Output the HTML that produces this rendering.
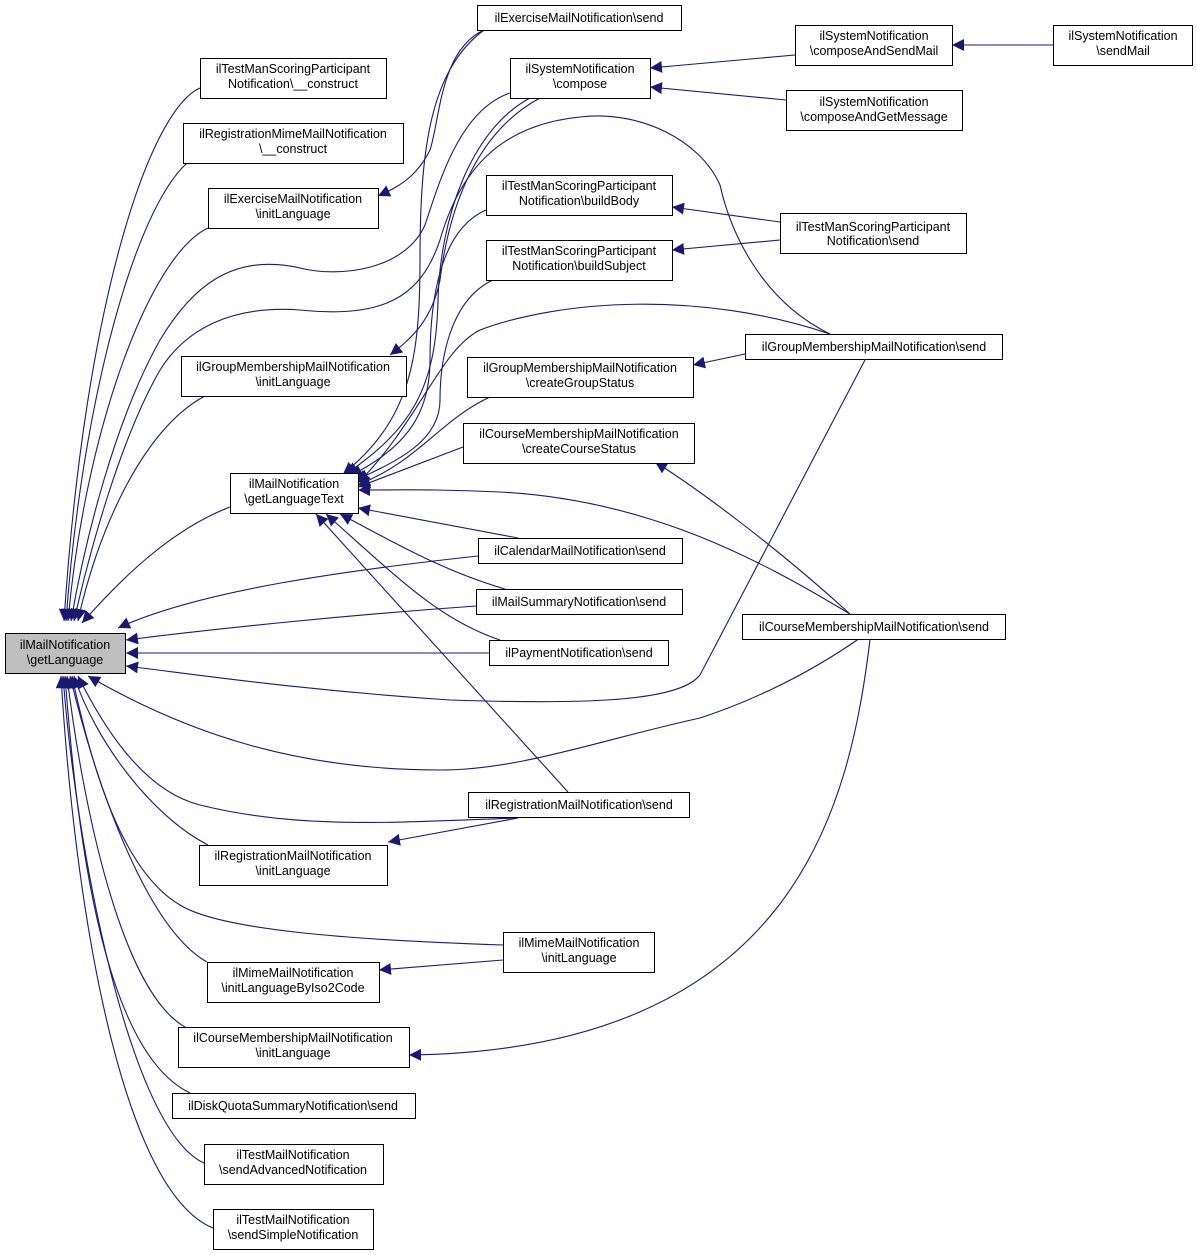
<!DOCTYPE html>
<html><head><meta charset="utf-8"><style>
html,body{margin:0;padding:0;background:#fff;}
svg{display:block;}
text{font-family:"Liberation Sans",sans-serif;font-size:12.5px;fill:#000;}
</style></head><body>
<svg width="1197" height="1255" viewBox="0 0 1197 1255" xmlns="http://www.w3.org/2000/svg">
<defs>
<marker id="a" viewBox="0 0 10 10" refX="10" refY="5" markerWidth="12" markerHeight="12" markerUnits="userSpaceOnUse" orient="auto">
<path d="M0,0 L10,5 L0,10 z" fill="#191970"/>
</marker>
</defs>
<g fill="none" stroke="#191970" stroke-width="1.1" marker-end="url(#a)">
<!-- to getLanguage from left column -->
<path d="M200,88 C150,110 85,300 64,621"/>
<path d="M187,163 C135,210 82,400 66,621"/>
<path d="M208,228 C150,255 85,430 68,621"/>
<path d="M510,93 C460,110 440,180 425,225 C405,270 340,278 300,268 C230,252 190,290 160,340 C115,420 85,540 71,621"/>
<path d="M830,334 C760,300 730,230 720,185 C700,140 640,110 580,117 C500,125 460,170 440,240 C420,300 380,318 300,310 C230,305 185,330 160,370 C120,440 90,550 74,621"/>
<path d="M205,396 C140,430 95,540 78,621"/>
<path d="M230,507 C170,530 120,580 82,623"/>
<path d="M478,556 C350,570 200,590 118,628"/>
<path d="M476,606 C350,615 220,628 126,640"/>
<path d="M489,653 L126,653"/>
<path d="M865,360 L700,675 C680,700 600,705 450,700 C300,690 200,675 126,666"/>
<path d="M860,638 C800,680 740,705 700,718 C600,740 520,770 440,770 C300,770 190,735 88,676"/>
<path d="M518,818 C400,822 300,830 200,805 C140,790 100,720 78,676"/>
<path d="M208,845 C150,815 95,740 74,676"/>
<path d="M503,945 C350,940 220,930 180,905 C120,870 90,760 72,676"/>
<path d="M207,962 C150,930 100,800 70,676"/>
<path d="M185,1027 C120,990 82,800 67,676"/>
<path d="M190,1093 C100,1050 76,820 65,676"/>
<path d="M204,1163 C130,1130 76,850 63,676"/>
<path d="M213,1228 C120,1190 74,900 61,676"/>
<!-- to getLanguageText -->
<path d="M484,30 C430,70 420,150 420,260 C420,360 410,420 343,474"/>
<path d="M530,98 C470,130 440,220 438,300 C436,390 410,430 346,474"/>
<path d="M486,210 C440,230 430,300 430,360 C430,420 400,450 350,476"/>
<path d="M493,280 C450,300 440,360 440,400 C440,440 400,460 356,480"/>
<path d="M830,334 C700,290 560,300 480,330 C440,350 420,420 358,483"/>
<path d="M490,397 C440,420 420,460 358,485"/>
<path d="M463,447 L358,487"/>
<path d="M850,614 C760,560 650,500 500,492 C440,489 400,490 358,490"/>
<path d="M518,538 L358,508"/>
<path d="M505,589 C440,570 390,540 340,514"/>
<path d="M500,640 C440,620 400,580 326,514"/>
<path d="M568,792 L316,514"/>
<!-- others -->
<path d="M484,30 C440,50 440,120 430,150 C415,180 395,188 378,196"/>
<path d="M540,98 C480,130 450,200 440,280 C432,320 412,338 390,355"/>
<path d="M518,818 L388,842"/>
<path d="M503,960 L379,970"/>
<path d="M870,640 C850,800 800,1050 409,1055"/>
<path d="M780,222 L672,207"/>
<path d="M780,240 L672,250"/>
<path d="M795,55 L650,68"/>
<path d="M786,100 L650,87"/>
<path d="M1053,45 L952,45"/>
<path d="M745,354 L693,365"/>
<path d="M850,614 C780,550 700,490 655,462"/>
</g>
<g stroke="#000" stroke-width="1" fill="#fff">
<rect x="5.5" y="633.5" width="120" height="40" fill="#bfbfbf"/>
<rect x="200.5" y="58.5" width="186" height="40"/>
<rect x="183.5" y="123.5" width="220" height="40"/>
<rect x="208.5" y="188.5" width="170" height="40"/>
<rect x="181.5" y="356.5" width="225" height="40"/>
<rect x="230.5" y="473.5" width="128" height="40"/>
<rect x="199.5" y="845.5" width="188" height="40"/>
<rect x="207.5" y="962.5" width="172" height="40"/>
<rect x="178.5" y="1027.5" width="231" height="40"/>
<rect x="172.5" y="1093.5" width="243" height="25"/>
<rect x="204.5" y="1144.5" width="179" height="40"/>
<rect x="213.5" y="1209.5" width="160" height="40"/>
<rect x="477.5" y="5.5" width="204" height="25"/>
<rect x="510.5" y="58.5" width="140" height="40"/>
<rect x="486.5" y="175.5" width="186" height="40"/>
<rect x="486.5" y="240.5" width="186" height="40"/>
<rect x="467.5" y="357.5" width="226" height="40"/>
<rect x="463.5" y="423.5" width="231" height="40"/>
<rect x="478.5" y="538.5" width="204" height="25"/>
<rect x="476.5" y="589.5" width="206" height="25"/>
<rect x="489.5" y="640.5" width="179" height="25"/>
<rect x="468.5" y="792.5" width="221" height="25"/>
<rect x="503.5" y="932.5" width="151" height="40"/>
<rect x="795.5" y="25.5" width="157" height="40"/>
<rect x="786.5" y="90.5" width="176" height="40"/>
<rect x="780.5" y="213.5" width="186" height="40"/>
<rect x="745.5" y="334.5" width="257" height="25"/>
<rect x="742.5" y="614.5" width="263" height="25"/>
<rect x="1053.5" y="25.5" width="139" height="40"/>
</g>
<g text-anchor="middle">
<text x="65" y="649">ilMailNotification</text><text x="65" y="664">\getLanguage</text>
<text x="293" y="73">ilTestManScoringParticipant</text><text x="293" y="88">Notification\__construct</text>
<text x="293" y="138">ilRegistrationMimeMailNotification</text><text x="293" y="153">\__construct</text>
<text x="293" y="203">ilExerciseMailNotification</text><text x="293" y="218">\initLanguage</text>
<text x="293" y="371">ilGroupMembershipMailNotification</text><text x="293" y="386">\initLanguage</text>
<text x="294" y="488">ilMailNotification</text><text x="294" y="503">\getLanguageText</text>
<text x="293" y="860">ilRegistrationMailNotification</text><text x="293" y="875">\initLanguage</text>
<text x="293" y="977">ilMimeMailNotification</text><text x="293" y="992">\initLanguageByIso2Code</text>
<text x="293" y="1042">ilCourseMembershipMailNotification</text><text x="293" y="1057">\initLanguage</text>
<text x="293" y="1110">ilDiskQuotaSummaryNotification\send</text>
<text x="293" y="1159">ilTestMailNotification</text><text x="293" y="1174">\sendAdvancedNotification</text>
<text x="293" y="1224">ilTestMailNotification</text><text x="293" y="1239">\sendSimpleNotification</text>
<text x="579" y="22">ilExerciseMailNotification\send</text>
<text x="580" y="73">ilSystemNotification</text><text x="580" y="88">\compose</text>
<text x="579" y="190">ilTestManScoringParticipant</text><text x="579" y="205">Notification\buildBody</text>
<text x="579" y="255">ilTestManScoringParticipant</text><text x="579" y="270">Notification\buildSubject</text>
<text x="580" y="372">ilGroupMembershipMailNotification</text><text x="580" y="387">\createGroupStatus</text>
<text x="579" y="438">ilCourseMembershipMailNotification</text><text x="579" y="453">\createCourseStatus</text>
<text x="580" y="555">ilCalendarMailNotification\send</text>
<text x="579" y="606">ilMailSummaryNotification\send</text>
<text x="579" y="657">ilPaymentNotification\send</text>
<text x="579" y="809">ilRegistrationMailNotification\send</text>
<text x="579" y="947">ilMimeMailNotification</text><text x="579" y="962">\initLanguage</text>
<text x="874" y="40">ilSystemNotification</text><text x="874" y="55">\composeAndSendMail</text>
<text x="874" y="106">ilSystemNotification</text><text x="874" y="121">\composeAndGetMessage</text>
<text x="873" y="231">ilTestManScoringParticipant</text><text x="873" y="245">Notification\send</text>
<text x="874" y="351">ilGroupMembershipMailNotification\send</text>
<text x="874" y="631">ilCourseMembershipMailNotification\send</text>
<text x="1123" y="40">ilSystemNotification</text><text x="1123" y="55">\sendMail</text>
</g>
</svg>
</body></html>
